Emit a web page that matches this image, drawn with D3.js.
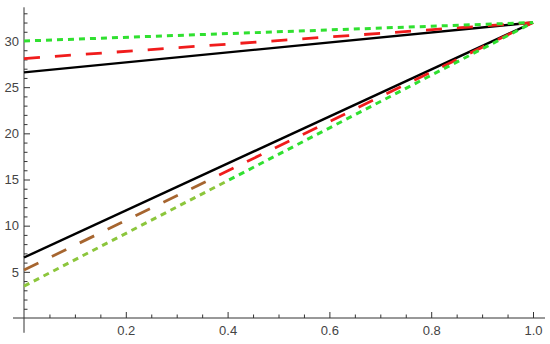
<!DOCTYPE html>
<html>
<head>
<meta charset="utf-8">
<script src="https://cdn.jsdelivr.net/npm/d3@7"></script>
<style>
  html, body { margin: 0; padding: 0; background: #fff; }
  svg { display: block; }
  .tick text { font-family: "Liberation Sans", Arial, sans-serif; font-size: 13px; fill: #444; }
</style>
</head>
<body>
<svg id="chart" width="550" height="344"></svg>
<script>
// ---- data ----
const xStart = 0, xEnd = 1;
const endValue = 32;
const upperBlack = 26.6, upperRed = 28.1, upperGreen = 30.0;
const lowerBlack = 6.55, lowerRed = 5.2, lowerGreen = 3.45;
const xMajorTicks = [0.2, 0.4, 0.6, 0.8, 1.0];
const yMajorTicks = [5, 10, 15, 20, 25, 30];

const series = [
  { name: "upperBlack", values: [[xStart, upperBlack], [xEnd, endValue]], kind: "solid" },
  { name: "lowerBlack", values: [[xStart, lowerBlack], [xEnd, endValue]], kind: "solid" },
  { name: "upperRed",   values: [[xStart, upperRed],   [xEnd, endValue]], kind: "dashed" },
  { name: "lowerRed",   values: [[xStart, lowerRed],   [xEnd, endValue]], kind: "dashedLow" },
  { name: "upperGreen", values: [[xStart, upperGreen], [xEnd, endValue]], kind: "dotted" },
  { name: "lowerGreen", values: [[xStart, lowerGreen], [xEnd, endValue]], kind: "dottedLow" }
];

// ---- scales ----
const x = d3.scaleLinear().domain([0, 1]).range([24, 533]);
const y = d3.scaleLinear().domain([0, 30]).range([318, 41]);

const svg = d3.select("#chart");

// gradients for the lower-left colour shift
const defs = svg.append("defs");
function grad(id, c1, c2, stopX) {
  const g = defs.append("linearGradient").attr("id", id)
    .attr("gradientUnits", "userSpaceOnUse")
    .attr("x1", x(0)).attr("y1", 0).attr("x2", x(1)).attr("y2", 0);
  const f = (x(stopX) - x(0)) / (x(1) - x(0));
  g.append("stop").attr("offset", 0).attr("stop-color", c1);
  g.append("stop").attr("offset", f).attr("stop-color", c1);
  g.append("stop").attr("offset", f).attr("stop-color", c2);
  g.append("stop").attr("offset", 1).attr("stop-color", c2);
}
grad("redGrad", "#a6652f", "#f01c1c", 0.38);
grad("greenGrad", "#8cc63c", "#30e030", 0.40);

const styles = {
  solid:     { stroke: "#000", width: 2.4, dash: null },
  dashed:    { stroke: "#f01c1c", width: 2.8, dash: "16,15" },
  dashedLow: { stroke: "url(#redGrad)", width: 2.8, dash: "16,15" },
  dotted:    { stroke: "#30e030", width: 3, dash: "6,5" },
  dottedLow: { stroke: "url(#greenGrad)", width: 3, dash: "6,5" }
};

// ---- axes ----
const axisColor = "#333";
const yMinor = d3.range(1, 34).filter(v => v % 5 !== 0);
const xMinor = d3.range(1, 20).map(i => i * 0.05).filter((v, i) => (i + 1) % 4 !== 0);

// y axis line
svg.append("line")
  .attr("x1", x(0)).attr("x2", x(0))
  .attr("y1", y(-1.6)).attr("y2", y(33.65))
  .attr("stroke", axisColor).attr("stroke-width", 1);
// x axis line
svg.append("line")
  .attr("x1", x(-0.0216)).attr("x2", x(1.0236))
  .attr("y1", y(0)).attr("y2", y(0))
  .attr("stroke", axisColor).attr("stroke-width", 1);

const gy = svg.append("g").attr("transform", `translate(${x(0)},0)`)
  .call(d3.axisLeft(y).tickValues(yMajorTicks).tickSize(-6).tickPadding(5).tickFormat(d3.format("d")));
const gyMinor = svg.append("g").attr("transform", `translate(${x(0)},0)`)
  .call(d3.axisLeft(y).tickValues(yMinor).tickSize(-3.5).tickFormat(""));
const gx = svg.append("g").attr("transform", `translate(0,${y(0)})`)
  .call(d3.axisBottom(x).tickValues(xMajorTicks).tickSize(-6).tickPadding(8).tickFormat(d3.format(".1f")));
const gxMinor = svg.append("g").attr("transform", `translate(0,${y(0)})`)
  .call(d3.axisBottom(x).tickValues(xMinor).tickSize(-3.5).tickFormat(""));

[gy, gyMinor, gx, gxMinor].forEach(g => {
  g.select(".domain").remove();
  g.selectAll(".tick line").attr("stroke", axisColor);
});

// ---- lines ----
const line = d3.line().x(d => x(d[0])).y(d => y(d[1]));
svg.append("g").selectAll("path").data(series).join("path")
  .attr("d", d => line(d.values))
  .attr("fill", "none")
  .attr("stroke", d => styles[d.kind].stroke)
  .attr("stroke-width", d => styles[d.kind].width)
  .attr("stroke-dasharray", d => styles[d.kind].dash);
</script>
</body>
</html>
